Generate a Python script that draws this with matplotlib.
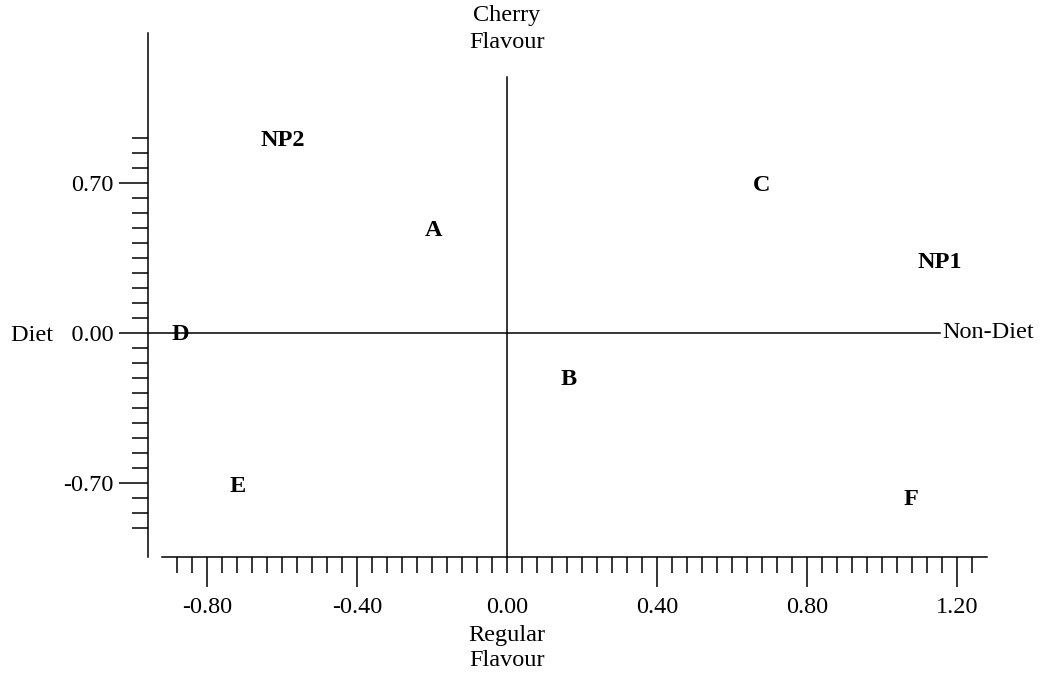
import numpy as np
import matplotlib
matplotlib.use("Agg")
import matplotlib.pyplot as plt

# 製品ポジショニングマップのデータ
brands = ["NP1", "NP2", "A", "B", "C", "D", "E", "F"]
diet_axis = [1.155, -0.597, -0.195, 0.163, 0.680, -0.872, -0.717, 1.077]
flavour_axis = [0.331, 0.900, 0.476, -0.219, 0.686, -0.009, -0.714, -0.779]

x_major = [-0.80, -0.40, 0.00, 0.40, 0.80, 1.20]
y_major = [-0.70, 0.00, 0.70]
y_labels = ["-0.70", "Diet   0.00", "0.70"]

plt.rcParams["font.family"] = ["Liberation Serif", "DejaVu Serif"]
plt.rcParams["font.size"] = 17.5
plt.rcParams["axes.linewidth"] = 1.1

W, H = 1048, 677
fig = plt.figure(figsize=(W / 100, H / 100), dpi=100)

# 軸の位置（ピクセル）
left_px, right_px, bottom_px, top_px = 148, 987, 557, 33
ax = fig.add_axes([left_px / W, 1 - bottom_px / H, (right_px - left_px) / W, (bottom_px - top_px) / H])

x0_px, xscale = 507, 375.0
y0_px, yscale = 333, 214.3
ax.set_xlim((left_px - x0_px) / xscale, (right_px - x0_px) / xscale)
ax.set_ylim((y0_px - bottom_px) / yscale, (y0_px - top_px) / yscale)

ax.spines["top"].set_visible(False)
ax.spines["right"].set_visible(False)
ax.spines["bottom"].set_bounds((162 - x0_px) / xscale, (987 - x0_px) / xscale)

# x軸の目盛り
x_minor = np.round(np.arange(-0.88, 1.2401, 0.04), 2)
ax.set_xticks(x_major, labels=["%.2f" % v for v in x_major])
ax.set_xticks(x_minor, minor=True)
ax.tick_params(axis="x", which="major", direction="out", length=21.6, width=1.1, pad=7)
ax.tick_params(axis="x", which="minor", direction="out", length=11.5, width=1.1)
# 0の目盛りは短く
ticks = ax.xaxis.get_major_ticks()
ticks[x_major.index(0.00)].tick1line.set_markersize(11.5)

# y軸の目盛り
y_minor = np.round(np.arange(-0.91, 0.9101, 0.07), 2)
ax.set_yticks(y_major, labels=y_labels)
ax.set_yticks(y_minor, minor=True)
ax.tick_params(axis="y", which="major", direction="out", length=21, width=1.1, pad=4)
ax.tick_params(axis="y", which="minor", direction="out", length=11.5, width=1.1)

# 中心線
xmin = ax.get_xlim()[0]
ax.plot([xmin, 1.155], [0, 0], color="black", lw=1.1)
ax.plot([0, 0], [ax.get_ylim()[0], (y0_px - 77) / yscale], color="black", lw=1.1)

ax.text(1.16, 0, "Non-Diet", ha="left", va="center", clip_on=False)
ax.text(0, (y0_px - 29) / yscale, "Cherry\nFlavour", ha="center", va="center",
        linespacing=1.4, clip_on=False)
ax.text(0, (y0_px - 648) / yscale, "Regular\nFlavour", ha="center", va="center",
        linespacing=1.25, clip_on=False)

for name, xv, yv in zip(brands, diet_axis, flavour_axis):
    ax.text(xv, yv, name, ha="center", va="center", fontsize=17.5, fontweight="bold")

fig.savefig("out.png", dpi=100)
